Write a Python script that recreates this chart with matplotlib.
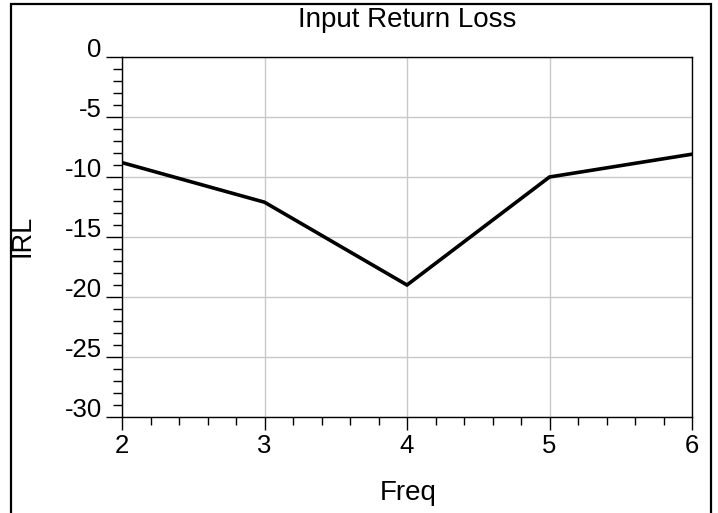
import matplotlib
matplotlib.use("Agg")
import matplotlib.pyplot as plt
from matplotlib.patches import Rectangle
from matplotlib.ticker import MultipleLocator

plt.rcParams['font.family'] = ['Liberation Sans', 'DejaVu Sans']
plt.rcParams['axes.unicode_minus'] = False

# data
freq = [2, 3, 4, 5, 6]
irl = [-8.8, -12.1, -19.0, -10.0, -8.1]

fig = plt.figure(figsize=(7.18, 5.13), dpi=100)
ax = fig.add_axes([122/718, 1 - 417/513, 570/718, 360/513])

ax.plot(freq, irl, color='black', linewidth=2.6, solid_joinstyle='miter')

ax.set_xlim(2, 6)
ax.set_ylim(-30, 0)
ax.xaxis.set_major_locator(MultipleLocator(1))
ax.xaxis.set_minor_locator(MultipleLocator(0.2))
ax.yaxis.set_major_locator(MultipleLocator(5))
ax.yaxis.set_minor_locator(MultipleLocator(1))

ax.grid(True, which='major', color='#c8c8c8', linewidth=1.0)
ax.set_axisbelow(True)
for s in ax.spines.values():
    s.set_linewidth(1.0)

ax.tick_params(axis='x', which='major', direction='out', length=9.5, width=1.0,
               pad=3, labelsize=18.5)
ax.tick_params(axis='x', which='minor', direction='out', length=5.5, width=1.0)
ax.tick_params(axis='y', which='major', direction='out', length=11.5, width=1.0,
               pad=3, labelsize=18.5)
ax.tick_params(axis='y', which='minor', direction='out', length=6.5, width=1.0)
for lbl in ax.get_yticklabels():
    lbl.set_verticalalignment('baseline')

# titles and axis names
fig.text(407/718, 1 - 27/513, 'Input Return Loss', ha='center', va='baseline', fontsize=20)
fig.text(408/718, 1 - 500/513, 'Freq', ha='center', va='baseline', fontsize=20)
fig.text(22/718, 1 - 236/513, 'IRL', ha='center', va='center', rotation=90, fontsize=19.5)

# outer frame
fig.patches.append(Rectangle((11/718, -0.1), 700/718, 1.1 - 4/513,
                             transform=fig.transFigure, fill=False,
                             edgecolor='black', linewidth=1.6))

fig.savefig('out.png', dpi=100)
